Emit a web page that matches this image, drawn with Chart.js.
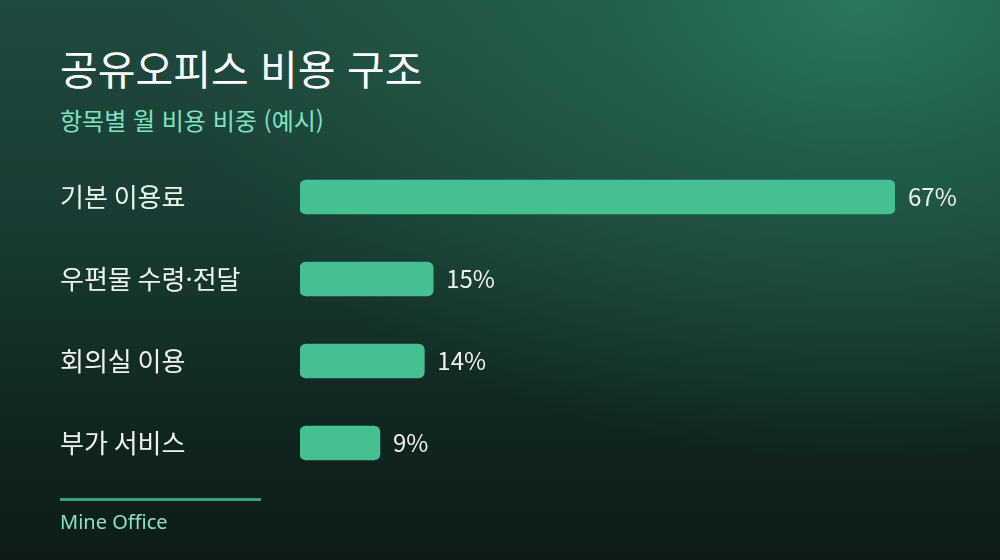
<!DOCTYPE html>
<html lang="ko">
<head>
<meta charset="utf-8">
<script src="https://cdn.jsdelivr.net/npm/chart.js@4"></script>
<style>
  html, body { margin:0; padding:0; }
  body {
    width:1000px; height:560px; overflow:hidden; position:relative;
    font-family:"Noto Sans CJK KR","Noto Sans",sans-serif;
    background:
      radial-gradient(ellipse 700px 460px at 860px 0px, rgba(42,122,94,0.95) 0%, rgba(38,110,86,0.6) 35%, rgba(30,80,65,0) 100%),
      linear-gradient(180deg, #1f4a3f 0%, #183c33 40%, #11261f 75%, #0d1c19 100%);
  }
  #title { position:absolute; left:60px; top:43px; font-size:41px; font-weight:400; color:#ffffff; line-height:1.2; }
  #subtitle { position:absolute; left:60px; top:106px; font-size:24px; color:#7fe3c1; line-height:1.2; }
  #rule { position:absolute; left:60px; top:498px; width:201px; height:3px; background:#3d9e7c; }
  #footer { position:absolute; left:60px; top:508px; font-size:20px; color:#86e3c4; font-family:"Noto Sans","Noto Sans CJK KR",sans-serif; }
  #wrap { position:absolute; left:0; top:0; width:1000px; height:560px; }
</style>
</head>
<body>
<div id="title">공유오피스 비용 구조</div>
<div id="subtitle">항목별 월 비용 비중 (예시)</div>
<div id="wrap"><canvas id="c"></canvas></div>
<div id="rule"></div>
<div id="footer">Mine Office</div>
<script>
const categories = ["기본 이용료", "우편물 수령·전달", "회의실 이용", "부가 서비스"];
const shares = [67, 15, 14, 9];
const valueLabels = ["67%", "15%", "14%", "9%"];

const valueLabelPlugin = {
  id: 'valueLabels',
  afterDatasetsDraw(chart) {
    const ctx = chart.ctx;
    const meta = chart.getDatasetMeta(0);
    ctx.save();
    ctx.font = '24px "Noto Sans CJK KR", "Noto Sans", sans-serif';
    ctx.fillStyle = '#eef3ef';
    ctx.textAlign = 'left';
    ctx.textBaseline = 'middle';
    meta.data.forEach((bar, i) => {
      ctx.fillText(valueLabels[i], bar.x + 13, bar.y);
    });
    ctx.restore();
  }
};

new Chart(document.getElementById('c'), {
  type: 'bar',
  data: {
    labels: categories,
    datasets: [{
      data: shares,
      backgroundColor: '#45c191',
      borderRadius: 6,
      borderSkipped: false,
      barThickness: 34
    }]
  },
  options: {
    indexAxis: 'y',
    responsive: true,
    maintainAspectRatio: false,
    animation: false,
    layout: { padding: { left: 60, right: 105, top: 156, bottom: 76 } },
    plugins: { legend: { display: false }, tooltip: { enabled: false } },
    scales: {
      x: {
        min: 0, max: 67,
        display: false,
        grid: { display: false }
      },
      y: {
        grid: { display: false },
        border: { display: false },
        ticks: {
          crossAlign: 'far',
          color: '#eef3ef',
          padding: 0,
          font: { size: 26, family: '"Noto Sans CJK KR", "Noto Sans", sans-serif' }
        },
        afterFit(scale) { scale.width = 240; }
      }
    }
  },
  plugins: [valueLabelPlugin]
});
</script>
</body>
</html>
